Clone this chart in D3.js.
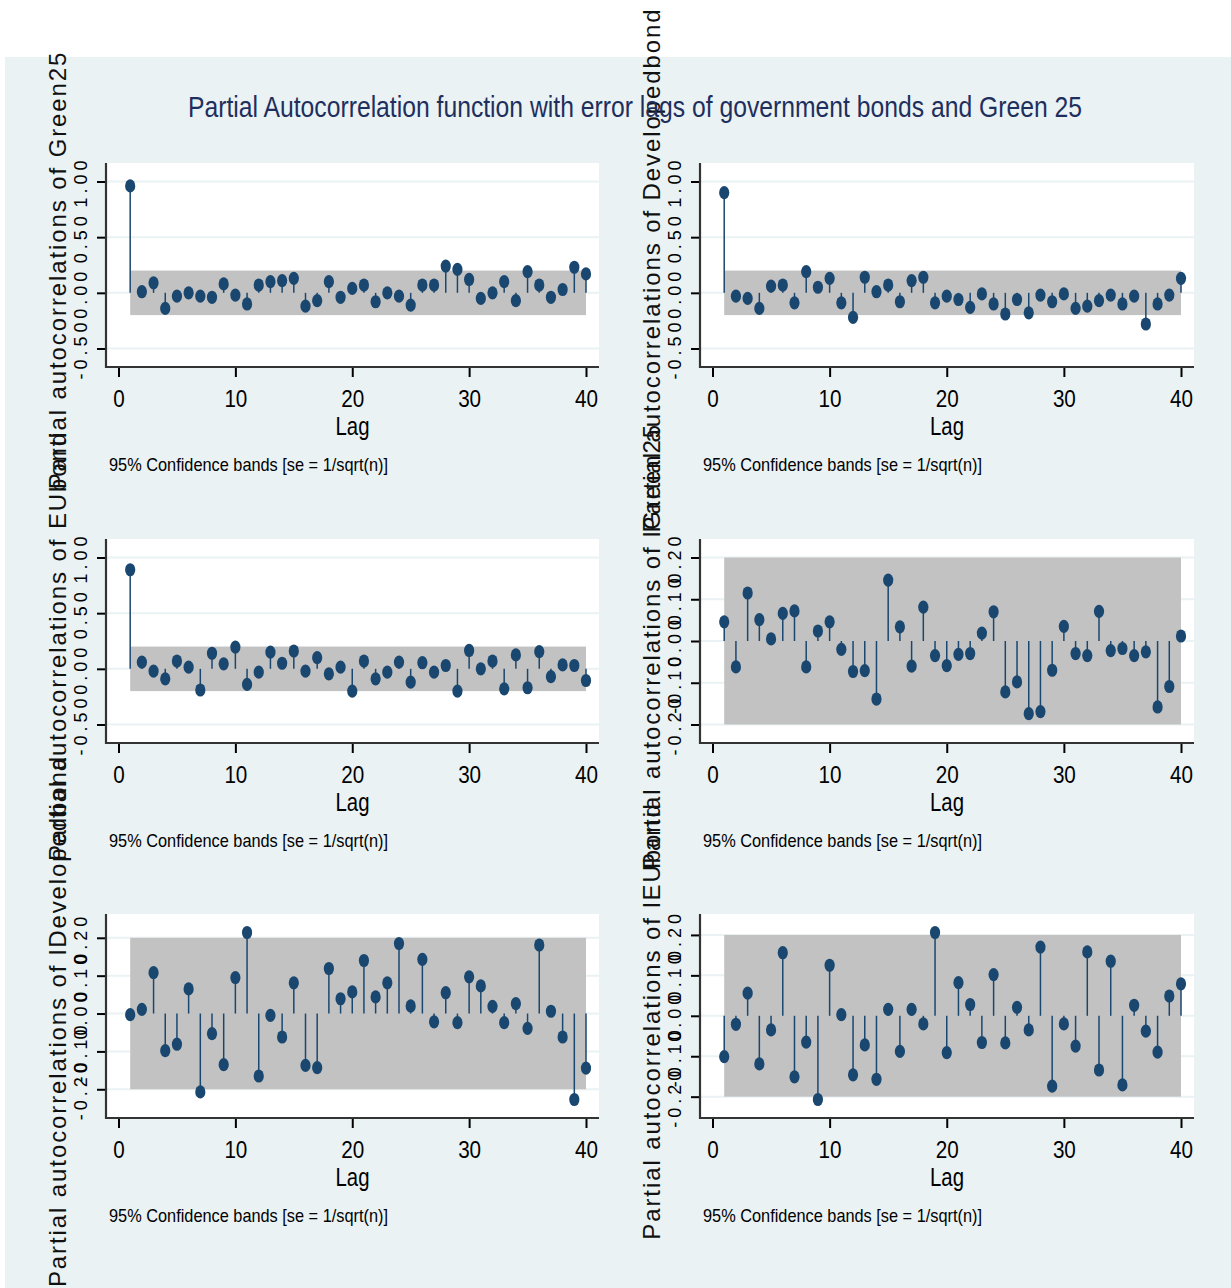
<!DOCTYPE html>
<html>
<head>
<meta charset="utf-8">
<script src="https://cdn.jsdelivr.net/npm/d3@7"></script>
<style>
  body { margin: 0; background: #ffffff; }
  svg { display: block; }
</style>
</head>
<body>
<svg id="chart" width="1231" height="1288"></svg>
<script>
// Partial autocorrelations, lags 1..40
const lags = d3.range(1, 41);

const pacfGreen25 = [
  0.96, 0.01, 0.09, -0.14, -0.03, 0.00, -0.03, -0.04, 0.08, -0.02,
  -0.10, 0.07, 0.10, 0.11, 0.13, -0.12, -0.07, 0.10, -0.04, 0.04,
  0.07, -0.08, 0.00, -0.03, -0.11, 0.07, 0.07, 0.24, 0.21, 0.12,
  -0.05, 0.00, 0.10, -0.07, 0.19, 0.07, -0.04, 0.03, 0.23, 0.17
];
const pacfDevelopedbond = [
  0.90, -0.03, -0.05, -0.14, 0.06, 0.07, -0.09, 0.19, 0.05, 0.13,
  -0.09, -0.22, 0.14, 0.01, 0.07, -0.08, 0.11, 0.14, -0.09, -0.03,
  -0.06, -0.13, -0.01, -0.10, -0.19, -0.06, -0.18, -0.02, -0.08, -0.01,
  -0.14, -0.12, -0.07, -0.02, -0.10, -0.03, -0.28, -0.10, -0.02, 0.13
];
const pacfEUbond = [
  0.89, 0.06, -0.02, -0.09, 0.07, 0.015, -0.19, 0.14, 0.045, 0.195,
  -0.14, -0.03, 0.15, 0.05, 0.16, -0.02, 0.10, -0.045, 0.015, -0.20,
  0.07, -0.09, -0.03, 0.06, -0.12, 0.055, -0.03, 0.03, -0.20, 0.165,
  0.00, 0.07, -0.18, 0.125, -0.17, 0.155, -0.07, 0.035, 0.03, -0.105
];
const pacfLGreen25 = [
  0.046, -0.062, 0.115, 0.051, 0.005, 0.066, 0.072, -0.062, 0.024, 0.046,
  -0.020, -0.073, -0.071, -0.139, 0.146, 0.034, -0.060, 0.081, -0.035, -0.059,
  -0.032, -0.030, 0.019, 0.070, -0.122, -0.098, -0.174, -0.169, -0.070, 0.035,
  -0.030, -0.035, 0.071, -0.023, -0.018, -0.035, -0.026, -0.158, -0.109, 0.012
];
const pacfLDevelopedbond = [
  -0.003, 0.011, 0.108, -0.098, -0.081, 0.065, -0.207, -0.053, -0.135, 0.095,
  0.214, -0.165, -0.005, -0.062, 0.081, -0.137, -0.143, 0.119, 0.039, 0.057,
  0.140, 0.044, 0.081, 0.185, 0.020, 0.143, -0.022, 0.055, -0.024, 0.097,
  0.073, 0.019, -0.024, 0.026, -0.039, 0.181, 0.006, -0.062, -0.227, -0.144
];
const pacfLEUbond = [
  -0.101, -0.021, 0.056, -0.119, -0.035, 0.156, -0.151, -0.065, -0.207, 0.125,
  0.003, -0.146, -0.072, -0.157, 0.016, -0.088, 0.016, -0.020, 0.206, -0.091,
  0.082, 0.028, -0.066, 0.102, -0.067, 0.021, -0.035, 0.170, -0.174, -0.020,
  -0.075, 0.158, -0.134, 0.135, -0.171, 0.026, -0.038, -0.090, 0.049, 0.079
];

// 95% confidence band half-width, se = 1/sqrt(n)
const confBand = 0.2;

// Axis ticks
const xTicks = [0, 10, 20, 30, 40];
const levelTicks = [-0.5, 0, 0.5, 1.0];
const levelTickLabels = ["-0.50", "0.00", "0.50", "1.00"];
const diffTicks = [-0.2, -0.1, 0, 0.1, 0.2];
const diffTickLabels = ["-0.20", "-0.10", "0.00", "0.10", "0.20"];

const seriesNames = ["Green25", "Developedbond", "EUbond", "lGreen25", "lDevelopedbond", "lEUbond"];
const seriesValues = [pacfGreen25, pacfDevelopedbond, pacfEUbond, pacfLGreen25, pacfLDevelopedbond, pacfLEUbond];
const seriesTicks = [levelTicks, levelTicks, levelTicks, diffTicks, diffTicks, diffTicks];
const seriesTickLabels = [levelTickLabels, levelTickLabels, levelTickLabels, diffTickLabels, diffTickLabels, diffTickLabels];

const mainTitle = "Partial Autocorrelation function with error lags of government bonds and Green 25";
const noteText = "95% Confidence bands [se = 1/sqrt(n)]";

// Layout
const FONT = "'Liberation Sans', Arial, Helvetica, sans-serif";
const colAxisX = [106, 700];
const colRight = [599, 1194];
const rowTop = [163, 539, 914];
const plotH = 204;
const navy = "#1a476f";

const svg = d3.select("#chart");
svg.append("rect").attr("width", 1231).attr("height", 1288).attr("fill", "#ffffff");
svg.append("rect").attr("x", 5).attr("y", 57).attr("width", 1226).attr("height", 1231).attr("fill", "#eaf2f3");

seriesValues.forEach((vals, i) => {
  const col = i % 2, row = Math.floor(i / 2);
  const left = colAxisX[col], right = colRight[col];
  const top = rowTop[row], bottom = top + plotH;
  const ticks = seriesTicks[i], tickLabels = seriesTickLabels[i];

  const x = d3.scaleLinear().domain([0, 40]).range([left + 12.5, right - 13]);
  const lo = Math.min(d3.min(vals), ticks[0], -confBand);
  const hi = Math.max(d3.max(vals), ticks[ticks.length - 1], confBand);
  const y = d3.scaleLinear().domain([lo, hi]).range([bottom - 18.5, top + 18.5]);

  const g = svg.append("g");

  // plot region
  g.append("rect").attr("x", left).attr("y", top)
    .attr("width", right - left).attr("height", plotH).attr("fill", "#ffffff");

  // grid lines
  g.selectAll("line.grid").data(ticks).join("line")
    .attr("class", "grid")
    .attr("x1", left).attr("x2", right)
    .attr("y1", d => y(d)).attr("y2", d => y(d))
    .attr("stroke", "#eaf2f3").attr("stroke-width", 2);

  // confidence band
  g.append("rect")
    .attr("x", x(lags[0])).attr("width", x(lags[lags.length - 1]) - x(lags[0]))
    .attr("y", y(confBand)).attr("height", y(-confBand) - y(confBand))
    .attr("fill", "#c2c2c2");

  // spikes
  g.selectAll("line.spike").data(vals).join("line")
    .attr("class", "spike")
    .attr("x1", (d, k) => x(lags[k])).attr("x2", (d, k) => x(lags[k]))
    .attr("y1", y(0)).attr("y2", d => y(d))
    .attr("stroke", navy).attr("stroke-width", 1.5);

  // markers
  g.selectAll("ellipse").data(vals).join("ellipse")
    .attr("cx", (d, k) => x(lags[k])).attr("cy", d => y(d))
    .attr("rx", 5.1).attr("ry", 6.6)
    .attr("fill", navy);

  // y axis
  const yAxis = d3.axisLeft(y).tickValues(ticks)
    .tickFormat((d, k) => tickLabels[k]).tickSize(9).tickSizeOuter(0);
  const ya = g.append("g").attr("transform", `translate(${left},0)`).call(yAxis);
  ya.select(".domain").remove();
  ya.selectAll(".tick line").attr("stroke", "#000").attr("stroke-width", 2);
  ya.selectAll(".tick text")
    .attr("x", 0).attr("y", 0).attr("dy", 0)
    .attr("transform", "translate(-19,0) rotate(-90)")
    .attr("text-anchor", "middle")
    .attr("font-family", FONT).attr("font-size", 18)
    .attr("letter-spacing", "4px")
    .attr("fill", "#000");

  // x axis
  const xAxis = d3.axisBottom(x).tickValues(xTicks).tickSize(10).tickSizeOuter(0);
  const xa = g.append("g").attr("transform", `translate(0,${bottom})`).call(xAxis);
  xa.select(".domain").remove();
  xa.selectAll(".tick line").attr("stroke", "#000").attr("stroke-width", 2);
  xa.selectAll(".tick text")
    .attr("y", 40).attr("dy", 0)
    .attr("font-family", FONT).attr("font-size", 24)
    .attr("textLength", d => String(d).length * 11.5)
    .attr("lengthAdjust", "spacingAndGlyphs")
    .attr("fill", "#000");

  // axis lines
  g.append("line").attr("x1", left).attr("x2", left).attr("y1", top).attr("y2", bottom + 1)
    .attr("stroke", "#333").attr("stroke-width", 2.2);
  g.append("line").attr("x1", left).attr("x2", right).attr("y1", bottom).attr("y2", bottom)
    .attr("stroke", "#333").attr("stroke-width", 2.2);

  // x title
  g.append("text").text("Lag")
    .attr("x", (left + right) / 2).attr("y", bottom + 68)
    .attr("text-anchor", "middle")
    .attr("font-family", FONT).attr("font-size", 26)
    .attr("textLength", 34).attr("lengthAdjust", "spacingAndGlyphs")
    .attr("fill", "#000");

  // note
  g.append("text").text(noteText)
    .attr("x", left + 3).attr("y", bottom + 104)
    .attr("font-family", FONT).attr("font-size", 19)
    .attr("textLength", 279).attr("lengthAdjust", "spacingAndGlyphs")
    .attr("fill", "#000");

  // y title (rotated)
  const cy = (top + bottom) / 2 + 5;
  g.append("text").text("Partial autocorrelations of " + seriesNames[i])
    .attr("transform", `translate(${left - 40},${cy}) rotate(-90)`)
    .attr("text-anchor", "middle")
    .attr("font-family", FONT).attr("font-size", 24)
    .attr("letter-spacing", "1.9px")
    .attr("fill", "#111");
});

// main title
svg.append("text").text(mainTitle)
  .attr("x", 635).attr("y", 117)
  .attr("text-anchor", "middle")
  .attr("font-family", FONT).attr("font-size", 29)
  .attr("textLength", 894).attr("lengthAdjust", "spacingAndGlyphs")
  .attr("fill", "#1e2f5e");
</script>
</body>
</html>
